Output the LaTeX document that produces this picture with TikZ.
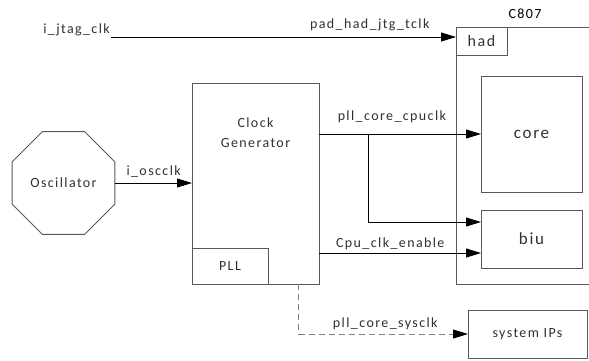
\documentclass[tikz,border=0pt]{standalone}
\usepackage{fontspec}
\setmainfont{Carlito}
\newfontfamily\lblfont[LetterSpace=10]{Carlito}
\usetikzlibrary{shapes.geometric,arrows.meta,calc,positioning}
\definecolor{linegray}{HTML}{595959}
\definecolor{txtgray}{HTML}{303030}
\tikzset{
  lbl/.style={font=\lblfont\fontsize{14}{20}\selectfont, text=txtgray, inner sep=1pt},
  blk/.style={draw=linegray, line width=1pt, inner sep=0pt, outer sep=0pt, anchor=north west, lbl},
  sig/.style={draw=black, line width=0.9pt, -{Triangle[length=15pt,width=9pt]}},
  sigd/.style={draw=gray, line width=0.9pt, dashed, dash pattern=on 6pt off 4pt, -{Triangle[length=15pt,width=9pt,black]}},
}
\begin{document}
\begin{tikzpicture}[x=1pt,y=-1pt]
	\clip (0,0) rectangle (589,360);
	% blocks
	\node[blk, minimum width=127pt, minimum height=201pt] (cg) at (192,83) {};
	\node[lbl, align=center] (cgname) at ($(cg.north)+(0,50)$) {Clock\\Generator};
	\node[blk, minimum width=76pt, minimum height=36pt, anchor=south west] (pll) at (cg.south west) {PLL};
	\node[lbl, draw=linegray, line width=1pt, regular polygon, regular polygon sides=8, minimum size=111pt] (osc) at (63.5,183) {Oscillator};
	\node[blk, minimum width=150pt, minimum height=257pt] (c807) at (456,27) {};
	\node[lbl, text=black] (c807name) at ($(c807.north west)+(69,-13)$) {C807};
	\node[blk, minimum width=51pt, minimum height=28pt, font=\lblfont\fontsize{16}{18}\selectfont] (had) at (c807.north west) {had};
	\node[blk, minimum width=101pt, minimum height=116pt, font=\lblfont\fontsize{17}{20}\selectfont] (core) at (481,76) {core};
	\node[blk, minimum width=101pt, minimum height=58pt, font=\lblfont\fontsize{17}{20}\selectfont] (biu) at (481,210) {biu};
	\node[blk, minimum width=119pt, minimum height=48pt] (sysip) at (468,310) {system IPs};
	\node[lbl, anchor=south east] (jtag) at (111,37) {i\_jtag\_clk};
	% signals
	\coordinate (split) at ($(cg.east |- core.west)+(49,0)$);
	\coordinate (brin) at ($(biu.west)+(0,-17)$);
	\coordinate (enin) at ($(biu.west)+(0,14)$);
	\coordinate (sysout) at ($(cg.south)+(43,0)$);
	\draw[sig] (jtag.south east) -- (jtag.south east -| c807.west) node[lbl, pos=0.75, above=5pt]{pad\_had\_jtg\_tclk};
	\draw[sig] (osc.east) -- (osc.east -| cg.west) node[lbl, midway, above=4pt]{i\_oscclk};
	\draw[sig] (cg.east |- core.west) -- (core.west) node[lbl, pos=0.45, above=10pt]{pll\_core\_cpuclk};
	\draw[sig] (split) |- (brin);
	\draw[sig] (cg.east |- enin) -- (enin) node[lbl, pos=0.44, above=2pt]{Cpu\_clk\_enable};
	\draw[sigd] (sysout) |- (sysip.west) node[lbl, pos=0.756, above=3pt]{pll\_core\_sysclk};
\end{tikzpicture}
\end{document}
